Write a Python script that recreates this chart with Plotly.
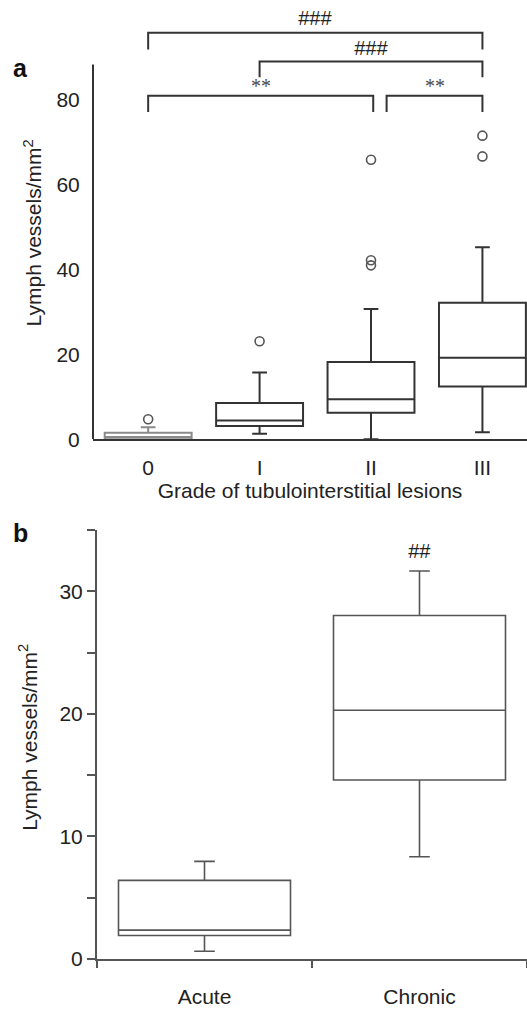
import plotly.graph_objects as go

W, H = 527, 1009

# ---------------- data: panel a ----------------
grades = ["0", "I", "II", "III"]
grade_pos = [0, 1, 2, 3]
a_lower = [0.0, 1.3, 0.0, 1.6]
a_q1 = [0.0, 3.1, 6.2, 12.4]
a_median = [0.5, 4.4, 9.4, 19.2]
a_q3 = [1.5, 8.5, 18.2, 32.2]
a_upper = [2.8, 15.7, 30.7, 45.3]
a_outlier_x = [0, 1, 2, 2, 2, 3, 3]
a_outlier_y = [4.7, 23.1, 41.0, 42.2, 65.9, 66.7, 71.6]

# significance brackets: (left group, right group, bar height, leg bottom, label)
br_left = [0, 1, 0, 2.14]
br_right = [3, 3, 2.02, 3]
br_top = [95.9, 89.1, 81.0, 81.0]
br_bottom = [91.9, 85.4, 77.2, 77.2]
br_label = ["###", "###", "**", "**"]
br_label_y = [99.4, 92.3, 83.3, 83.3]

# ---------------- data: panel b ----------------
phases = ["Acute", "Chronic"]
b_lower = [0.61, 8.33]
b_q1 = [1.9, 14.6]
b_median = [2.34, 20.29]
b_q3 = [6.4, 28.03]
b_upper = [7.95, 31.66]
b_sig_label = "##"
b_sig_y = 33.3

def py(p):
    return 1 - p / H

fig = go.Figure()

dark = "#333333"
grayb = "#555555"

# panel a boxes
for i, g in enumerate(grades):
    col = "#8a8a8a" if i == 0 else dark
    fig.add_trace(go.Box(
        x=[grade_pos[i]], q1=[a_q1[i]], median=[a_median[i]], q3=[a_q3[i]],
        lowerfence=[a_lower[i]], upperfence=[a_upper[i]],
        width=0.78, whiskerwidth=0.17, fillcolor="rgba(0,0,0,0)",
        line=dict(color=col, width=2), boxpoints=False,
        xaxis="x", yaxis="y", showlegend=False, hoverinfo="skip"))

fig.add_trace(go.Scatter(
    x=a_outlier_x, y=a_outlier_y, mode="markers",
    marker=dict(symbol="circle-open", size=9, color="#555555", line=dict(width=1.6, color="#555555")),
    xaxis="x", yaxis="y", showlegend=False, hoverinfo="skip", cliponaxis=False))

# panel b boxes
for i, p in enumerate(phases):
    fig.add_trace(go.Box(
        x=[p], q1=[b_q1[i]], median=[b_median[i]], q3=[b_q3[i]],
        lowerfence=[b_lower[i]], upperfence=[b_upper[i]],
        width=0.8, whiskerwidth=0.12, fillcolor="rgba(0,0,0,0)",
        line=dict(color=grayb, width=1.6), boxpoints=False,
        xaxis="x2", yaxis="y2", showlegend=False, hoverinfo="skip"))

shapes = []
annotations = []

# y axis line of panel a (stops at ~88)
shapes.append(dict(type="line", xref="x domain", yref="y", x0=0, x1=0, y0=0, y1=88.4,
                   line=dict(color=dark, width=2)))

for l, r, t, b, lab, ly in zip(br_left, br_right, br_top, br_bottom, br_label, br_label_y):
    shapes.append(dict(type="path", xref="x", yref="y",
                       path=f"M {l},{b} L {l},{t} L {r},{t} L {r},{b}",
                       line=dict(color=dark, width=2)))
    if lab.startswith("#"):
        annotations.append(dict(x=(l + r) / 2, y=ly, xref="x", yref="y", text=f"<i>{lab}</i>",
                                showarrow=False, font=dict(family="Liberation Sans, Arial", size=20, color="#222")))
    else:
        annotations.append(dict(x=(l + r) / 2, y=ly, xref="x", yref="y", text=lab,
                                showarrow=False, font=dict(family="Liberation Serif, Times New Roman", size=20, color="#4a4a4a")))

annotations.append(dict(x="Chronic", y=b_sig_y, xref="x2", yref="y2", text=f"<i>{b_sig_label}</i>",
                        showarrow=False, font=dict(family="Liberation Sans, Arial", size=20, color="#222")))

# panel labels
annotations += [
    dict(x=20 / W, y=py(69), xref="paper", yref="paper", text="<b>a</b>",
         showarrow=False, font=dict(family="Liberation Sans, Arial", size=25, color="#111"),
         xanchor="center", yanchor="middle"),
    dict(x=20 / W, y=py(539), xref="paper", yref="paper", text="<b>b</b>",
         showarrow=False, font=dict(family="Liberation Sans, Arial", size=25, color="#111"),
         xanchor="center", yanchor="middle"),
]

a_top_val = 102
a_ppu = 4.2857
tick_font = dict(family="Liberation Sans, Arial", size=21, color="#222")
title_font = dict(family="Liberation Sans, Arial", size=21, color="#222")

fig.update_layout(
    width=W, height=H, margin=dict(l=0, r=0, t=0, b=0),
    paper_bgcolor="white", plot_bgcolor="white", showlegend=False,
    xaxis=dict(domain=[93 / W, 1], range=[-0.495, 3.40], anchor="y",
               tickvals=grade_pos, ticktext=grades, showline=True, linecolor=dark, linewidth=2,
               ticks="outside", ticklen=9, tickcolor="rgba(0,0,0,0)", showgrid=False, zeroline=False,
               tickfont=tick_font,
               title=dict(text="Grade of tubulointerstitial lesions", font=title_font, standoff=4)),
    yaxis=dict(domain=[py(444), py(444 - a_top_val * a_ppu)], range=[0, a_top_val], anchor="x",
               tickvals=[0, 20, 40, 60, 80], showline=False, ticks="outside", ticklen=8,
               tickcolor="rgba(0,0,0,0)", showgrid=False, zeroline=False, tickfont=tick_font),
    xaxis2=dict(domain=[97 / W, 1], range=[-0.5, 1.5], anchor="y2", type="category",
                categoryorder="array", categoryarray=phases,
                showline=True, linecolor=grayb, linewidth=2, ticks="outside", tickson="boundaries",
                ticklen=7, tickwidth=2, tickcolor=grayb, ticklabelstandoff=18,
                showgrid=False, zeroline=False, tickfont=tick_font),
    yaxis2=dict(domain=[py(969.3), py(536)], range=[0, 35], anchor="x2",
                tickmode="linear", tick0=0, dtick=10,
                minor=dict(dtick=5, ticks="outside", ticklen=8, tickwidth=2, tickcolor=grayb),
                showline=True, linecolor=grayb, linewidth=2, ticks="outside", ticklen=8, tickwidth=2,
                tickcolor=grayb, showgrid=False, zeroline=False, tickfont=tick_font),
    shapes=shapes,
)

# y-axis titles placed as annotations (centred where the reference has them)
annotations += [
    dict(x=33 / W, y=py(236), xref="paper", yref="paper", text="Lymph vessels/mm<sup>2</sup>",
         textangle=-90, showarrow=False, font=title_font, xanchor="center", yanchor="middle"),
    dict(x=28 / W, y=py(746), xref="paper", yref="paper", text="Lymph vessels/mm<sup>2</sup>",
         textangle=-90, showarrow=False, font=title_font, xanchor="center", yanchor="middle"),
]
fig.update_layout(annotations=annotations)

fig.write_html("out.html")
